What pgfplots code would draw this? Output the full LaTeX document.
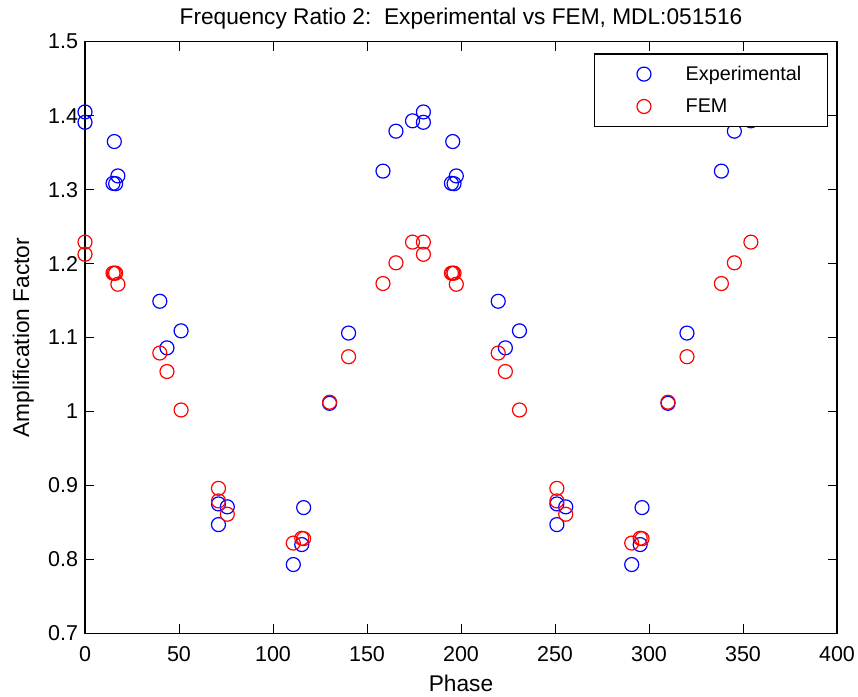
\documentclass[border=0pt]{standalone}
\usepackage{pgfplots}
\pgfplotsset{compat=1.18}
\usepackage{fontspec}
\setmainfont{Liberation Sans}
\newcommand\fs{\fontsize{21.5pt}{26pt}\selectfont}
\newcommand\fl{\fontsize{22.7pt}{27pt}\selectfont}
\newcommand\fg{\fontsize{19.8pt}{24pt}\selectfont}
\definecolor{mblue}{RGB}{0,0,255}
\definecolor{mred}{RGB}{255,0,0}
\begin{document}
\begin{tikzpicture}[x=1pt,y=1pt]
\useasboundingbox (0,0) rectangle (858,696);
\begin{axis}[
  at={(85pt,62.7pt)}, anchor=south west,
  width=752pt, height=591.6pt, scale only axis,
  xmin=0, xmax=400, ymin=0.7, ymax=1.5,
  xtick={0,50,...,400},
  ytick={0.7,0.8,0.9,1,1.1,1.2,1.3,1.4,1.5},
  tick align=inside, major tick length=9pt, tick pos=both,
  tick style={black, line width=1pt},
  axis line style={black, line width=1.2pt},
  /pgf/number format/assume math mode=true,
  ticklabel style={font=\fs},
  xticklabel style={inner sep=0pt, anchor=north, yshift=-13.4pt},
  yticklabel style={inner sep=0pt, anchor=east, xshift=-6.7pt},
  yticklabel={\pgfmathprintnumber[fixed,precision=1]{\tick}},
  legend cell align=left,
  legend style={at={(rel axis cs:0.9884,0.9804)}, anchor=north east,
    draw=black, line width=1.2pt, fill=white,
    inner xsep=0pt, inner ysep=4pt, row sep=0pt, column sep=0pt,
    nodes={inner sep=0pt, text width=142pt, font=\fg, draw=none}},
  legend image code/.code={\path[draw=none,fill=none] (0pt,-16.2pt) rectangle (91pt,16.2pt);
    \draw[#1] plot coordinates {(49.3pt,0pt)};},
  clip=false,
]
\addplot[only marks, mark=o, mark size=7pt, mblue, line width=1.2pt] coordinates {
(0,1.405) (0,1.391) (15.6,1.365) (14.9,1.3085) (16.3,1.308) (17.5,1.3185)
(39.8,1.149) (43.6,1.086) (51.1,1.109) (71.0,0.875) (71.0,0.847) (75.7,0.871)
(110.8,0.793) (115.3,0.820) (116.3,0.870) (130.1,1.011) (140.2,1.106)
(158.5,1.325) (165.4,1.379) (174.2,1.393)
(180,1.405) (180,1.391) (195.6,1.365) (194.9,1.3085) (196.3,1.308) (197.5,1.3185)
(219.8,1.149) (223.6,1.086) (231.1,1.109) (251.0,0.875) (251.0,0.847) (255.7,0.871)
(290.8,0.793) (295.3,0.820) (296.3,0.870) (310.1,1.011) (320.2,1.106)
(338.5,1.325) (345.4,1.379) (354.2,1.393)
};
\addlegendentry{Experimental}
\addplot[only marks, mark=o, mark size=7pt, mred, line width=1.2pt] coordinates {
(0,1.229) (0,1.2125) (15.6,1.187) (14.9,1.187) (16.3,1.187) (17.5,1.172)
(39.8,1.079) (43.6,1.054) (51.1,1.002) (71.0,0.896) (71.0,0.879) (75.7,0.861)
(110.8,0.822) (115.3,0.8285) (116.3,0.828) (130.1,1.0125) (140.2,1.074)
(158.5,1.173) (165.4,1.201) (174.2,1.229)
(180,1.229) (180,1.2125) (195.6,1.187) (194.9,1.187) (196.3,1.187) (197.5,1.172)
(219.8,1.079) (223.6,1.054) (231.1,1.002) (251.0,0.896) (251.0,0.879) (255.7,0.861)
(290.8,0.822) (295.3,0.8285) (296.3,0.828) (310.1,1.0125) (320.2,1.074)
(338.5,1.173) (345.4,1.201) (354.2,1.229)
};
\addlegendentry{FEM}
\end{axis}
\node[anchor=base, font=\fl, inner sep=0pt] at (461,671) {Frequency Ratio 2:\ \ Experimental vs FEM, MDL:051516};
\node[anchor=base, font=\fl, inner sep=0pt] at (461,5) {Phase};
\node[anchor=base, rotate=90, font=\fl, inner sep=0pt] at (29,358.5) {Amplification Factor};
\end{tikzpicture}
\end{document}
